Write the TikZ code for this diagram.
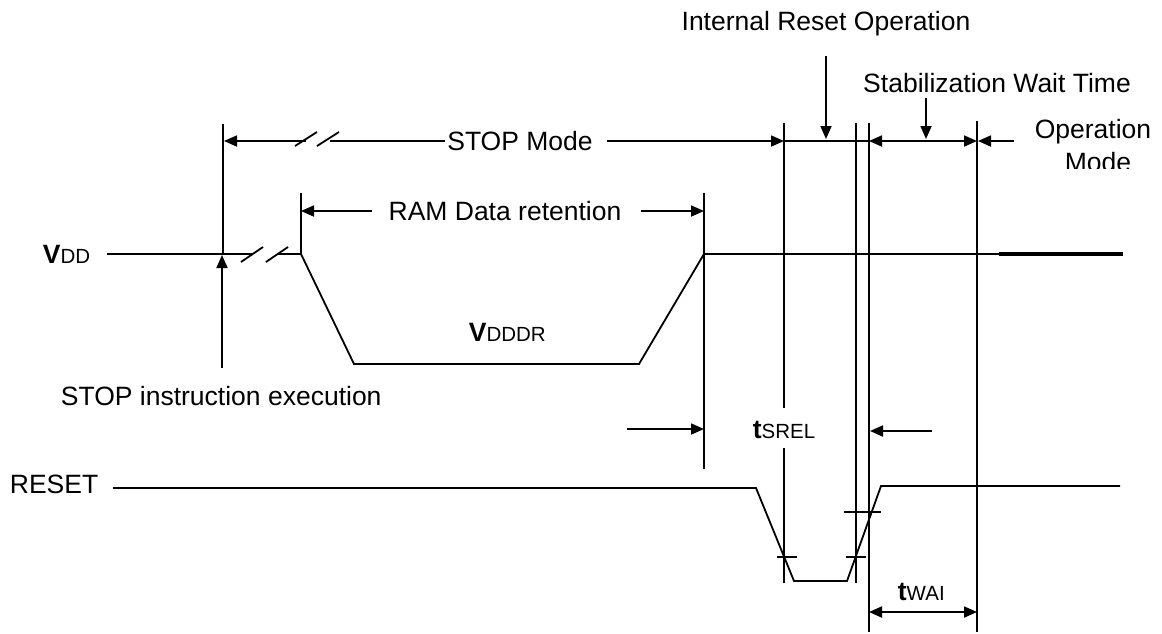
\documentclass[tikz,border=0pt]{standalone}
\usepackage{fontspec}
\setmainfont{Liberation Sans}
\usetikzlibrary{arrows.meta}
\newcommand\smtxt[1]{{\fontsize{20.5}{24}\selectfont #1}}
\begin{document}
\begin{tikzpicture}[x=1pt,y=-1pt, line width=1.8pt,
  tip/.style={-{Triangle[length=13pt,width=11pt]}},
  dtip/.style={{Triangle[length=13pt,width=11pt]}-{Triangle[length=13pt,width=11pt]}},
  lbl/.style={inner sep=0pt, font=\fontsize{26.5}{30}\selectfont, anchor=base},
  sig/.style={line width=1.8pt, line join=miter},
  ]
\useasboundingbox (0,0) rectangle (1162,633);

% labels
\node[lbl] (iro) at (826,30) {Internal Reset Operation};
\node[lbl] (swt) at (997,92) {Stabilization Wait Time};
\node[lbl] (op) at (1093,138) {Operation};
\begin{scope}
  \clip (1000,100) rectangle (1162,168);
  \node[lbl] (mode) at (1098,171) {Mode};
\end{scope}
\node[lbl] (stopm) at (520,150) {STOP Mode};
\node[lbl] (ram) at (505,220) {RAM Data retention};
\node[lbl, anchor=base west] (vdd) at (42,263) {\textbf{V}\smtxt{DD}};
\node[lbl, anchor=base west] (vdddr) at (468,341) {\textbf{V}\smtxt{DDDR}};
\node[lbl, anchor=base west] (stopi) at (60,405) {STOP instruction execution};
\node[lbl, anchor=base west] (tsrel) at (752,438) {\textbf{t}\smtxt{SREL}};
\node[lbl, anchor=base west] (twai) at (897,600) {\textbf{t}\smtxt{WAI}};
\node[lbl, anchor=base west] (reset) at (9,493) {RESET};

% vertical reference lines
\draw (223,124) -- (223,254);
\draw (301,193) -- (301,254);
\draw (704,193) -- (704,469);
\draw (784,123) -- (784,408);
\draw (784,448) -- (784,583);
\draw (856,123) -- (856,583);
\draw (869,123) -- (869,632);
\draw (977,121) -- (977,632);

% STOP Mode dimension line
\draw[tip] (306,141) -- (224,141);
\draw (330,141) -- (445,141);
\draw (295,146) -- (317,132);
\draw (317,146) -- (339,132);
\draw[tip] (607,141) -- (784,141);
\draw (784,141) -- (869,141);
\draw[dtip] (869,141) -- (977,141);
\draw[tip] (1014,141) -- (978,141);

% down arrows
\draw[tip] (826,56) -- (826,139);
\draw[tip] (926,98) -- (926,139);

% RAM data retention
\draw[tip] (372,211) -- (301,211);
\draw[tip] (641,211) -- (704,211);

% STOP instruction arrow
\draw[tip] (222,368) -- (222,255);

% VDD signal
\draw[sig] (107,254) -- (252,254);
\draw[sig] (277,254) -- (301,254) -- (354,364) -- (639,364) -- (704,254) -- (999,254);
\draw[line width=3.6pt] (999,254) -- (1123,254);
\draw (241,262) -- (263,247);
\draw (266,262) -- (288,247);

% tSREL arrows
\draw[tip] (627,429) -- (704,429);
\draw[tip] (932,431) -- (870,431);

% RESET signal
\draw[sig] (113,488) -- (756,488) -- (794,581) -- (847,581) -- (881,486) -- (1120,486);
\draw (777,557) -- (797,557);
\draw (846,557) -- (866,557);
\draw (844,512) -- (881,512);

% tWAI
\draw[dtip] (869,612) -- (977,612);
\end{tikzpicture}
\end{document}
